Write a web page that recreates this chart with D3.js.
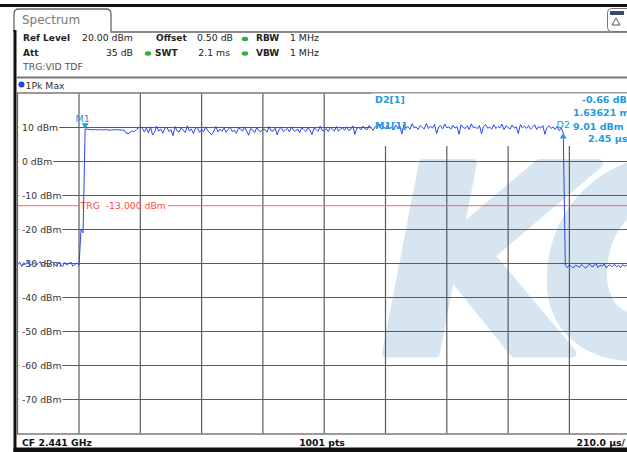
<!DOCTYPE html>
<html>
<head>
<meta charset="utf-8">
<script src="https://d3js.org/d3.v7.min.js"></script>
<style>
html, body { margin: 0; padding: 0; background: #fff; overflow: hidden; }
svg { display: block; font-family: "DejaVu Sans", sans-serif; }
</style>
</head>
<body>
<svg width="627" height="452"></svg>
<script>
// sweep: 2.1 ms total, trace every 7 us (dBm)
var sweepMs = 2.1;
var stepMs = 0.007;
var traceDbm = [
    -30.4, -29.6, -30.9, -29.8, -30.2, -29.3, -30.7, -30.1, -29.7, -30.5,
    -30.0, -29.4, -30.8, -30.2, -29.9, -30.6, -30.1, -29.5, -30.3, -30.7,
    -29.8, -30.2, -30.9, -29.7, -30.4, -30.0, -29.6, -30.8, -30.3, -29.9,
    -30.5, -20.0, -21.0,
    9.6, 9.5, 9.4, 9.4, 9.3, 9.4, 9.3, 9.4, 9.3, 9.3,
    9.4, 9.3, 9.2, 9.3, 9.3, 9.4, 9.3, 9.3, 9.2, 9.3,
    8.4, 8.2, 8.6, 9.0, 8.8, 9.4, 9.8, 10.2,
    9.8, 8.7, 9.9, 8.4, 10.2, 7.8, 8.6, 10.4, 8.9, 9.6,
    8.3, 9.7, 10.1, 8.8, 9.4, 7.6, 10.3, 9.0, 8.7, 9.9,
    9.2, 8.5, 10.5, 8.9, 9.6, 8.2, 9.8, 10.0, 8.6, 9.3,
    8.8, 10.2, 9.1, 8.4, 7.9, 9.0, 10.3, 8.7, 9.5, 8.9,
    9.9, 8.6, 9.4, 10.1, 8.8, 9.2, 8.3, 9.8, 9.6, 8.9,
    10.2, 9.0, 7.7, 9.7, 9.3, 8.5, 10.0, 9.1, 8.8, 9.6,
    9.4, 8.6, 10.3, 9.0, 8.9, 9.8, 7.8, 9.5, 10.1, 8.8,
    9.3, 9.7, 8.7, 10.2, 9.1, 8.9, 9.6, 8.5, 9.9, 9.4,
    8.8, 10.0, 9.2, 7.9, 9.8, 9.5, 8.9, 10.4, 9.1, 9.0,
    9.7, 8.8, 10.1, 9.4, 9.0, 10.3, 8.9, 9.6, 9.9, 9.2,
    10.2, 9.1, 9.5, 10.5, 8.0, 9.8, 10.0, 9.3, 10.4, 9.6,
    9.4, 10.6, 9.8, 9.2, 10.3, 9.9, 11.0, 9.5, 10.1, 9.7,
    10.8, 9.6, 10.2, 9.3, 10.7, 9.9, 10.4, 8.1, 10.9, 9.8,
    10.3, 9.5, 11.1, 9.9, 10.2, 9.4, 10.6, 10.0, 9.6, 11.2,
    9.7, 10.4, 9.8, 10.9, 8.2, 10.1, 10.5, 9.6, 11.0, 9.9,
    10.2, 9.5, 10.7, 9.8, 10.3, 8.0, 10.8, 10.0, 9.7, 10.5,
    9.4, 11.1, 9.9, 10.2, 9.6, 10.6, 8.1, 10.4, 10.9, 9.8,
    10.1, 9.5, 10.8, 9.7, 10.3, 9.9, 11.0, 9.4, 10.5, 10.0,
    9.6, 10.7, 9.8, 10.2, 8.2, 10.9, 9.9, 10.4, 9.7, 10.6,
    9.5, 10.1, 10.8, 9.4, 10.3, 9.8, 10.6, 8.0, 10.0, 10.5,
    9.7, 10.2, 9.4, 10.4, 9.1, 9.8, 8.4,
    -30.6, -31.2, -30.4, -30.9, -31.3, -30.5, -30.8, -31.1, -30.3, -30.9,
    -31.4, -30.6, -30.2, -31.0, -30.7, -29.9, -31.2, -30.5, -30.8, -30.1,
    -31.3, -30.6, -30.4, -31.0, -30.2, -30.9, -30.6, -31.2, -30.3, -30.8,
    -30.5, -31.1, -30.7
];
var levelRange = [-80, 20];
var levelTicks = [10, 0, -10, -20, -30, -40, -50, -60, -70];
var levelLabels = ["10 dBm", "0 dBm", "-10 dBm", "-20 dBm", "-30 dBm", "-40 dBm", "-50 dBm", "-60 dBm", "-70 dBm"];
var timeGrid = [0.21, 0.42, 0.63, 0.84, 1.05, 1.26, 1.47, 1.68, 1.89];
var trigLevel = -13;
var markerNames = ["M1", "D2"];
var markerIndex = [33, 267];

var svg = d3.select("svg");
var x = d3.scaleLinear().domain([0, sweepMs]).range([17.7, 630.7]);
var y = d3.scaleLinear().domain(levelRange).range([433.5, 93.5]);
var gridColor = "#5c5c5c";
var markerColor = "#2499e3";

//frame of the instrument screen
svg.append("rect").attr("x", 0).attr("y", 4).attr("width", 627).attr("height", 3).attr("fill", "#111");
svg.append("path")
    .attr("d", "M14,32V14Q14,9 19,9H106Q111,9 111,14V32H627")
    .attr("fill", "none").attr("stroke", "#666").attr("stroke-width", 1.3);
svg.append("text").attr("x", 22).attr("y", 24).attr("font-size", 12).attr("fill", "#7a7a7a").text("Spectrum");
// small icon top right
svg.append("rect").attr("x", 607.5).attr("y", 8.5).attr("width", 26).attr("height", 23).attr("rx", 4)
    .attr("fill", "#fff").attr("stroke", "#777");
svg.append("rect").attr("x", 610).attr("y", 11).attr("width", 14).attr("height", 4).attr("fill", "#3a4a6a");
svg.append("path").attr("d", "M616,18L620,25H612Z").attr("fill", "none").attr("stroke", "#556").attr("stroke-width", 1);

svg.append("rect").attr("x", 13.5).attr("y", 30).attr("width", 3).attr("height", 422).attr("fill", "#111");
svg.append("rect").attr("x", 13.5).attr("y", 447.5).attr("width", 614).attr("height", 5).attr("fill", "#111");

//settings block
var info = svg.append("g").attr("font-size", 9.3).attr("fill", "#222");
function infoText(tx, ty, s, bold, anchor) {
    info.append("text").attr("x", tx).attr("y", ty)
        .attr("font-weight", bold ? "bold" : "normal")
        .attr("font-size", bold ? 9 : 9.3)
        .attr("text-anchor", anchor || "start")
        .text(s);
}
infoText(23, 41, "Ref Level", true);
infoText(82, 41, "20.00 dBm", false);
infoText(156, 41, "Offset", true);
infoText(197, 41, "0.50 dB", false);
infoText(256, 41, "RBW", true);
infoText(290, 41, "1 MHz", false);
infoText(23, 56, "Att", true);
infoText(133, 56, "35 dB", false, "end");
infoText(155, 56, "SWT", true);
infoText(230, 56, "2.1 ms", false, "end");
infoText(256, 56, "VBW", true);
infoText(290, 56, "1 MHz", false);
info.append("text").attr("x", 23).attr("y", 70).attr("fill", "#555").text("TRG:VID TDF");
[[245, 39], [148, 53.5], [245, 53.5]].forEach(function (p) {
    info.append("ellipse").attr("cx", p[0]).attr("cy", p[1]).attr("rx", 3.2).attr("ry", 2.2).attr("fill", "#3aaa3a");
});

svg.append("line").attr("x1", 16.5).attr("x2", 627).attr("y1", 77.5).attr("y2", 77.5)
    .attr("stroke", "#777").attr("stroke-width", 2);
svg.append("circle").attr("cx", 21.5).attr("cy", 84.5).attr("r", 3).attr("fill", "#1f3cf5");
svg.append("text").attr("x", 25.5).attr("y", 88.5).attr("font-size", 9.3).attr("fill", "#333").text("1Pk Max");

//watermark, stroked to get the heavy rounded letters
svg.append("text")
    .attr("x", 381).attr("y", 353)
    .attr("font-size", 260).attr("font-weight", "bold").attr("font-style", "italic")
    .attr("letter-spacing", -24)
    .attr("fill", "#d7e5f1").attr("stroke", "#d7e5f1")
    .attr("stroke-width", 9).attr("stroke-linejoin", "round")
    .text("KC");

//grid
var grid = svg.append("g").attr("stroke", gridColor).attr("stroke-width", 1.2);
grid.selectAll(".h").data(levelTicks).enter().append("line")
    .attr("x1", 17.5).attr("x2", 631)
    .attr("y1", function (d) { return y(d); })
    .attr("y2", function (d) { return y(d); });
grid.selectAll(".v").data(timeGrid).enter().append("line")
    .attr("x1", function (d) { return x(d); })
    .attr("x2", function (d) { return x(d); })
    .attr("y1", y(levelRange[1])).attr("y2", y(levelRange[0]));
svg.append("rect").attr("x", 17.5).attr("y", y(levelRange[1]) - 0.5)
    .attr("width", 620).attr("height", y(levelRange[0]) - y(levelRange[1]) + 1)
    .attr("fill", "none").attr("stroke", "#666").attr("stroke-width", 1.3);

// level labels sit on white, the grid line starts after them
var labels = svg.append("g").attr("font-size", 9.3).attr("fill", "#333");
levelTicks.forEach(function (d, i) {
    var bg = labels.append("rect").attr("fill", "#fff");
    var t = labels.append("text").attr("x", 22).attr("y", y(d) + 3.5).text(levelLabels[i]);
    var w = t.node().getComputedTextLength();
    bg.attr("x", 18.5).attr("y", y(d) - 5).attr("width", w + 4.5).attr("height", 10);
});

// marker field covers the top right of the diagram
svg.append("rect").attr("x", 371.5).attr("y", 93.5).attr("width", 260).attr("height", 52.5).attr("fill", "#fff");

//trigger line
var trgText = svg.append("text").attr("x", 80.5).attr("y", y(trigLevel) + 3.5)
    .attr("font-size", 9.3).attr("fill", "#ff4a4a").attr("xml:space", "preserve")
    .text("TRG  -13.000 dBm");
var trgEnd = 80.5 + trgText.node().getComputedTextLength() + 1.5;
svg.append("g").attr("stroke", "#ff6060").attr("stroke-width", 1)
    .selectAll("line").data([[17.5, 79.5], [trgEnd, 631]]).enter().append("line")
    .attr("x1", function (d) { return d[0]; }).attr("x2", function (d) { return d[1]; })
    .attr("y1", y(trigLevel)).attr("y2", y(trigLevel));

//trace
svg.append("clipPath").attr("id", "plotClip").append("rect")
    .attr("x", 17.5).attr("y", y(levelRange[1])).attr("width", 620).attr("height", y(levelRange[0]) - y(levelRange[1]));
var line = d3.line()
    .x(function (d, i) { return x(i * stepMs); })
    .y(function (d) { return y(d); });
svg.append("path")
    .attr("clip-path", "url(#plotClip)")
    .attr("d", line(traceDbm))
    .attr("fill", "none").attr("stroke", "#2c46f0").attr("stroke-width", 1)
    .attr("stroke-linejoin", "round");

//markers
var mx = x(markerIndex[0] * stepMs), my = y(traceDbm[markerIndex[0]]);
svg.append("path").attr("d", "M" + (mx - 3.5) + "," + (my - 5.5) + "H" + (mx + 3.5) + "L" + mx + "," + my + "Z")
    .attr("fill", markerColor);
svg.append("text").attr("x", mx - 2.5).attr("y", my - 6.5).attr("text-anchor", "middle")
    .attr("font-size", 9.5).attr("fill", markerColor).text(markerNames[0]);
var dx = x(markerIndex[1] * stepMs), dy = y(traceDbm[markerIndex[1]]);
svg.append("path").attr("d", "M" + (dx - 3.5) + "," + (dy + 5.5) + "H" + (dx + 3.5) + "L" + dx + "," + dy + "Z")
    .attr("fill", markerColor);
svg.append("text").attr("x", dx).attr("y", dy - 4.5).attr("text-anchor", "middle")
    .attr("font-size", 9.5).attr("fill", markerColor).text(markerNames[1]);

var mk = svg.append("g").attr("font-size", 9.5).attr("font-weight", "bold").attr("fill", markerColor);
[[375, 102.5, "D2[1]"], [582, 103, "-0.66 dB"], [573, 115.5, "1.63621 ms"],
 [375, 128.5, "M1[1]"], [573, 130, "9.01 dBm"], [588, 141.5, "2.45 µs"]].forEach(function (d) {
    mk.append("text").attr("x", d[0]).attr("y", d[1]).text(d[2]);
});

//footer
var foot = svg.append("g").attr("font-size", 9.3).attr("font-weight", "bold").attr("fill", "#111");
foot.append("text").attr("x", 22).attr("y", 445.5).text("CF 2.441 GHz");
foot.append("text").attr("x", 322).attr("y", 445.5).attr("text-anchor", "middle").text("1001 pts");
foot.append("text").attr("x", 625).attr("y", 445.5).attr("text-anchor", "end").text("210.0 µs/");
</script>
</body>
</html>
